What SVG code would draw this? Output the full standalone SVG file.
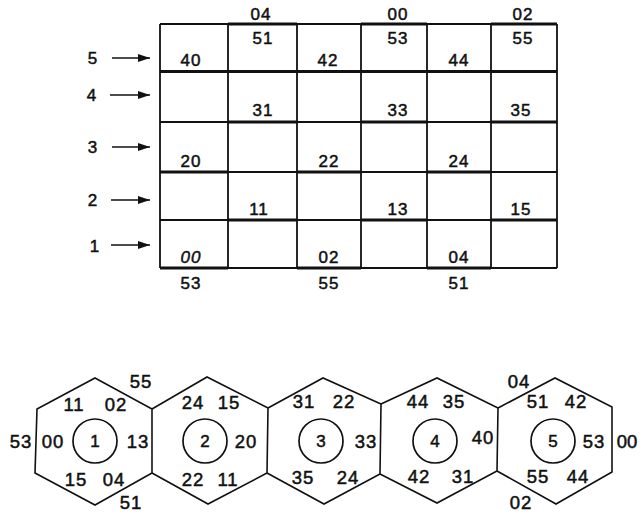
<svg xmlns="http://www.w3.org/2000/svg" width="640" height="514" viewBox="0 0 640 514">
<style>
text{font-family:"Liberation Sans",Arial,sans-serif;font-size:17px;letter-spacing:1px;fill:#111;stroke:#111;stroke-width:0.5;text-anchor:middle}
.h text{font-size:18.5px}
.h text.n{font-size:17px;letter-spacing:0}
.g{stroke:#111;stroke-width:1.8;fill:none}
.t{stroke:#111;stroke-width:3;fill:none}
.hex{stroke:#111;stroke-width:1.6;fill:none}
.c{stroke:#111;stroke-width:1.7;fill:none}
.a{stroke:#111;stroke-width:1.6;fill:none}
</style>
<defs>
<marker id="ah" viewBox="0 0 12 8" refX="12" refY="4" markerWidth="12" markerHeight="8" markerUnits="userSpaceOnUse" orient="auto">
<path d="M0,0 L12,4 L0,8 Z" fill="#111"/>
</marker>
</defs>
<rect width="640" height="514" fill="#fff"/>

<g id="grid">
<path class="g" d="M160,24V268 M228,24V268 M297,24V268 M361,24V268 M427,24V268 M491,24V268 M557,24V268"/>
<path class="g" d="M160,24H557 M160,71.5H557 M160,122H557 M160,172H557 M160,220H557 M160,268H557"/>
<path class="t" d="M228,24H297 M361,24H427 M491,24H557"/>
<path class="t" d="M160,71.5H557"/>
<path class="t" d="M228,122H297 M361,122H427 M491,122H557"/>
<path class="t" d="M160,172H228 M297,172H361 M427,172H491"/>
<path class="t" d="M228,220H297 M361,220H427 M491,220H557"/>
<path class="t" d="M160,268H228 M297,268H361 M427,268H491"/>
</g>

<g id="grid-labels">
<text x="261" y="20">04</text>
<text x="398" y="20">00</text>
<text x="523" y="20">02</text>
<text x="263" y="44">51</text>
<text x="398" y="44">53</text>
<text x="523" y="44">55</text>
<text x="191" y="66">40</text>
<text x="328" y="66">42</text>
<text x="459" y="66">44</text>
<text x="263" y="116">31</text>
<text x="398" y="116">33</text>
<text x="521" y="116">35</text>
<text x="191" y="167">20</text>
<text x="329" y="167">22</text>
<text x="459" y="167">24</text>
<text x="259" y="215">11</text>
<text x="398" y="215">13</text>
<text x="521" y="215">15</text>
<text x="191" y="263" font-style="italic">00</text>
<text x="329" y="263">02</text>
<text x="459" y="263">04</text>
<text x="191" y="289">53</text>
<text x="329" y="289">55</text>
<text x="459" y="289">51</text>
</g>

<g id="row-labels">
<text x="93" y="64">5</text>
<text x="92" y="101">4</text>
<text x="93" y="153">3</text>
<text x="93" y="206">2</text>
<text x="95" y="252">1</text>
</g>

<g id="connectors">
<line class="a" x1="112" y1="58" x2="150" y2="58" marker-end="url(#ah)"/>
<line class="a" x1="110" y1="95" x2="150" y2="95" marker-end="url(#ah)"/>
<line class="a" x1="112" y1="147" x2="150" y2="147" marker-end="url(#ah)"/>
<line class="a" x1="111" y1="200" x2="150" y2="200" marker-end="url(#ah)"/>
<line class="a" x1="111" y1="245" x2="150" y2="245" marker-end="url(#ah)"/>
</g>

<g id="hex1" class="h">
<path class="hex" d="M95,378 L152,409 L152,473 L95,505 L35,473 L37,409 Z"/>
<circle class="c" cx="95" cy="441" r="22"/>
<text class="n" x="95" y="447">1</text>
<text x="74" y="411">11</text>
<text x="116" y="411">02</text>
<text x="141" y="388">55</text>
<text x="21" y="448">53</text>
<text x="53" y="448">00</text>
<text x="138" y="448">13</text>
<text x="76" y="486">15</text>
<text x="114" y="486">04</text>
<text x="131" y="509">51</text>
</g>

<g id="hex2" class="h">
<path class="hex" d="M152,409 L207,377 L268,408 L267,473 L208,504 L152,473"/>
<circle class="c" cx="205" cy="441" r="22"/>
<text class="n" x="205" y="447">2</text>
<text x="193" y="409">24</text>
<text x="229" y="409">15</text>
<text x="246" y="448">20</text>
<text x="193" y="486">22</text>
<text x="228" y="486">11</text>
</g>

<g id="hex3" class="h">
<path class="hex" d="M268,408 L323,378 L381,404 L380,474 L324,504 L267,473"/>
<circle class="c" cx="321" cy="441" r="22"/>
<text class="n" x="321" y="447">3</text>
<text x="304" y="408">31</text>
<text x="344" y="408">22</text>
<text x="366" y="448">33</text>
<text x="303" y="484">35</text>
<text x="348" y="484">24</text>
</g>

<g id="hex4" class="h">
<path class="hex" d="M381,404 L437,378 L498,408 L497,471 L437,503 L380,474"/>
<circle class="c" cx="435" cy="441" r="22"/>
<text class="n" x="435" y="447">4</text>
<text x="418" y="408">44</text>
<text x="454" y="408">35</text>
<text x="483" y="444">40</text>
<text x="419" y="483">42</text>
<text x="463" y="483">31</text>
</g>

<g id="hex5" class="h">
<path class="hex" d="M498,408 L555,378 L612,407 L612,472 L556,504 L497,471"/>
<circle class="c" cx="553" cy="441" r="22"/>
<text class="n" x="553" y="447">5</text>
<text x="519" y="388">04</text>
<text x="538" y="408">51</text>
<text x="576" y="408">42</text>
<text x="594" y="448">53</text>
<text x="627" y="448" style="letter-spacing:0">00</text>
<text x="538" y="483">55</text>
<text x="578" y="483">44</text>
<text x="521" y="509">02</text>
</g>
</svg>
